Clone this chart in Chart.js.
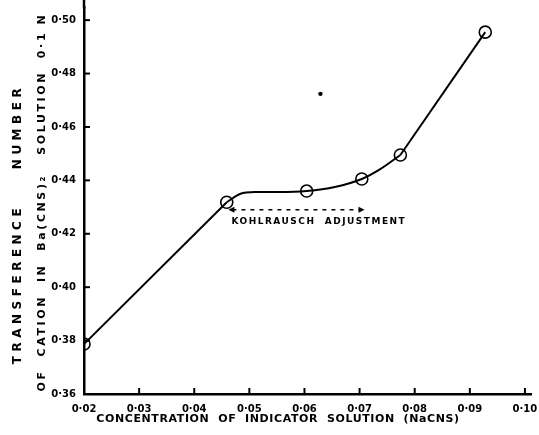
<!DOCTYPE html>
<html>
<head>
<meta charset="utf-8">
<script src="https://cdn.jsdelivr.net/npm/chart.js@4"></script>
<style>
  html, body { margin: 0; padding: 0; background: #fff; }
  #wrap { width: 539px; height: 435px; }
</style>
</head>
<body>
<div id="wrap"><canvas id="chart" width="539" height="435"></canvas></div>
<script>
// observed points (circles)
const obsX = [0.0200, 0.0459, 0.0604, 0.0704, 0.0774, 0.0928];
const obsY = [0.3787, 0.4318, 0.4360, 0.4405, 0.4495, 0.4955];
// hand-drawn curve through the middle points
const curveX = [0.0459, 0.0483, 0.0510, 0.0555, 0.0604, 0.0655, 0.0704, 0.0736, 0.0774];
const curveY = [0.4318, 0.4349, 0.4356, 0.4356, 0.4360, 0.4375, 0.4405, 0.4440, 0.4495];
// lone dot
const strayX = [0.0629];
const strayY = [0.4724];

const xTicks = [0.02, 0.03, 0.04, 0.05, 0.06, 0.07, 0.08, 0.09, 0.10];
const xTickLabels = ['0·02', '0·03', '0·04', '0·05', '0·06', '0·07', '0·08', '0·09', '0·10'];
const yTicks = [0.36, 0.38, 0.40, 0.42, 0.44, 0.46, 0.48, 0.50];
const yTickLabels = ['0·36', '0·38', '0·40', '0·42', '0·44', '0·46', '0·48', '0·50'];

const xTitle = 'CONCENTRATION  OF  INDICATOR  SOLUTION  (NaCNS)';
const yTitleOuter = 'TRANSFERENCE    NUMBER';
const yTitleInner = 'OF  CATION  IN  Ba(CNS)₂   SOLUTION  0·1 N';
const noteText = 'KOHLRAUSCH  ADJUSTMENT';

// arrow for the note (data units)
const arrowFrom = 0.0462, arrowTo = 0.0709, arrowAt = 0.4290;

const pts = (xs, ys) => xs.map((x, i) => ({ x: x, y: ys[i] }));
const near = (a, b) => Math.abs(a - b) < 1e-6;
const noPad = s => { s.paddingTop = 0; s.paddingBottom = 0; s.paddingLeft = 0; s.paddingRight = 0; };

const decor = {
  id: 'decor',
  afterDraw(chart) {
    const ctx = chart.ctx;
    const xs = chart.scales.x, ys = chart.scales.y;
    const a = chart.chartArea;
    ctx.save();
    ctx.strokeStyle = '#000';
    ctx.fillStyle = '#000';
    // y axis runs on a little past the top tick
    ctx.lineWidth = 2.5;
    ctx.beginPath(); ctx.moveTo(a.left, a.top + 1); ctx.lineTo(a.left, 0); ctx.stroke();
    // inward tick stubs
    ctx.lineWidth = 2;
    yTicks.forEach(v => {
      const py = ys.getPixelForValue(v);
      ctx.beginPath(); ctx.moveTo(a.left, py); ctx.lineTo(a.left + 6, py); ctx.stroke();
    });
    xTicks.forEach(v => {
      const px = xs.getPixelForValue(v);
      ctx.beginPath(); ctx.moveTo(px, a.bottom); ctx.lineTo(px, a.bottom - 6); ctx.stroke();
    });

    // dashed double arrow
    const x1 = xs.getPixelForValue(arrowFrom), x2 = xs.getPixelForValue(arrowTo);
    const ay = ys.getPixelForValue(arrowAt);
    ctx.lineWidth = 1.6;
    ctx.setLineDash([4, 5]);
    ctx.beginPath(); ctx.moveTo(x1 + 4, ay); ctx.lineTo(x2 - 4, ay); ctx.stroke();
    ctx.setLineDash([]);
    ctx.beginPath();
    ctx.moveTo(x1, ay); ctx.lineTo(x1 + 6, ay - 3); ctx.lineTo(x1 + 6, ay + 3); ctx.closePath();
    ctx.moveTo(x2, ay); ctx.lineTo(x2 - 6, ay - 3); ctx.lineTo(x2 - 6, ay + 3); ctx.closePath();
    ctx.fill();

    // note text
    ctx.font = 'bold 9px "DejaVu Sans"';
    ctx.letterSpacing = '1.5px';
    ctx.textAlign = 'left';
    ctx.textBaseline = 'middle';
    ctx.fillText(noteText, x1 + 3, ay + 12);

    // x title
    ctx.font = 'bold 11px "DejaVu Sans"';
    ctx.letterSpacing = '0.6px';
    ctx.textAlign = 'center';
    ctx.fillText(xTitle, 278, 419);

    // y titles
    ctx.save();
    ctx.translate(18, 224);
    ctx.rotate(-Math.PI / 2);
    ctx.font = 'bold 12px "DejaVu Sans"';
    ctx.letterSpacing = '4.5px';
    ctx.fillText(yTitleOuter, 0, 0);
    ctx.restore();

    ctx.save();
    ctx.translate(42, 202);
    ctx.rotate(-Math.PI / 2);
    ctx.font = 'bold 11px "DejaVu Sans"';
    ctx.letterSpacing = '2.6px';
    ctx.fillText(yTitleInner, 0, 0);
    ctx.restore();

    ctx.restore();
  }
};

new Chart(document.getElementById('chart'), {
  type: 'scatter',
  data: {
    datasets: [
      {
        data: pts(obsX.slice(0, 2), obsY.slice(0, 2)),
        showLine: true, borderColor: '#000', borderWidth: 2, pointRadius: 0, tension: 0
      },
      {
        data: pts(curveX, curveY),
        showLine: true, borderColor: '#000', borderWidth: 2, pointRadius: 0,
        cubicInterpolationMode: 'monotone'
      },
      {
        data: pts(obsX.slice(4), obsY.slice(4)),
        showLine: true, borderColor: '#000', borderWidth: 2, pointRadius: 0, tension: 0
      },
      {
        data: pts(obsX, obsY),
        showLine: false, pointStyle: 'circle', pointRadius: 6,
        pointBackgroundColor: 'rgba(255,255,255,0)', pointBorderColor: '#000', pointBorderWidth: 1.6
      },
      {
        data: pts(strayX, strayY),
        showLine: false, pointRadius: 2.2,
        pointBackgroundColor: '#000', pointBorderColor: '#000', pointBorderWidth: 0
      }
    ]
  },
  options: {
    responsive: false,
    animation: false,
    layout: { padding: { top: 2, right: 8, left: 0, bottom: 0 } },
    plugins: { legend: { display: false }, tooltip: { enabled: false } },
    scales: {
      x: {
        type: 'linear', min: 0.02, max: 0.1011,
        afterBuildTicks: s => { s.ticks = xTicks.map(v => ({ value: v })); },
        afterFit: s => { s.height = 41; noPad(s); },
        grid: { display: false, drawTicks: false },
        border: { display: true, color: '#000', width: 2.5 },
        ticks: {
          padding: 9, color: '#000', maxRotation: 0, autoSkip: false,
          font: { family: 'DejaVu Sans', size: 10, weight: 'bold' },
          callback: v => { const i = xTicks.findIndex(t => near(t, v)); return i < 0 ? '' : xTickLabels[i]; }
        }
      },
      y: {
        type: 'linear', min: 0.36, max: 0.5047,
        afterBuildTicks: s => { s.ticks = yTicks.map(v => ({ value: v })); },
        afterFit: s => { s.width = 84; noPad(s); },
        grid: { display: false, drawTicks: false },
        border: { display: true, color: '#000', width: 2.5 },
        ticks: {
          padding: 8, color: '#000', autoSkip: false,
          font: { family: 'DejaVu Sans', size: 10, weight: 'bold' },
          callback: v => { const i = yTicks.findIndex(t => near(t, v)); return i < 0 ? '' : yTickLabels[i]; }
        }
      }
    }
  },
  plugins: [decor]
});
</script>
</body>
</html>
